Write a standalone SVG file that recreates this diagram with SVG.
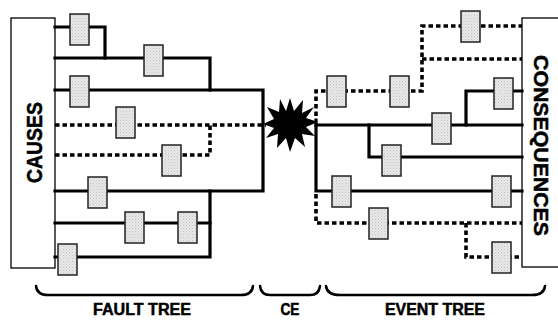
<svg xmlns="http://www.w3.org/2000/svg" width="558" height="320" viewBox="0 0 558 320">
<style>
.frame{fill:#fff;stroke:#000;stroke-width:1.3}
.ln{fill:none;stroke:#000;stroke-width:3.2;stroke-linejoin:miter;stroke-linecap:square}
.dot{fill:none;stroke:#000;stroke-width:3.6;stroke-dasharray:4.5 3;stroke-linejoin:miter}
.bx{fill:url(#stip);stroke:#222;stroke-width:1.5}
.br{fill:none;stroke:#000;stroke-width:2.5;stroke-linecap:round}
.lbl{font-family:"Liberation Sans",Arial,sans-serif;font-weight:bold;fill:#000;stroke:#000;stroke-width:0.5}
</style>
<defs>
<pattern id="stip" width="3" height="3" patternUnits="userSpaceOnUse">
<rect width="3" height="3" fill="#e8e8e8"/>
<rect x="0" y="0" width="1" height="1" fill="#c4c4c4"/>
<rect x="1.5" y="1.5" width="1" height="1" fill="#d0d0d0"/>
</pattern>
</defs>
<rect width="558" height="320" fill="#fff"/>
<g id="causes">
<rect class="frame" x="11" y="18" width="44" height="250"/>
<text class="lbl" font-size="22" transform="translate(42,142.5) rotate(-90)" text-anchor="middle" textLength="81" lengthAdjust="spacingAndGlyphs">CAUSES</text>
</g>
<g id="consequences">
<rect class="frame" x="522" y="18" width="40" height="249"/>
<text class="lbl" font-size="20" transform="translate(533.5,145.5) rotate(90)" text-anchor="middle" textLength="181" lengthAdjust="spacingAndGlyphs">CONSEQUENCES</text>
</g>
<g id="connectors">
<path class="ln" d="M55,27 H105 V58"/>
<path class="ln" d="M55,58 H210 V90"/>
<path class="ln" d="M55,90 H263 V191 H55"/>
<path class="ln" d="M55,223 H210"/>
<path class="ln" d="M55,257 H210 V191"/>
<path class="dot" d="M55,125 H266"/>
<path class="dot" d="M55,155 H210 V125"/>
<path class="ln" d="M316,125 H522"/>
<path class="ln" d="M316,120 V191 H522"/>
<path class="ln" d="M466,125 V91 H522"/>
<path class="ln" d="M369,125 V157 H522"/>
<path class="dot" d="M316,194 V223 H522"/>
<path class="dot" d="M466,223 V257 H522"/>
<path class="dot" d="M316,116 V91 H422 V26 H522"/>
<path class="dot" d="M422,59 H522"/>
</g>
<g id="ce">
<polygon fill="#000" points="290,98 294,111 303,100 302,113 314,107 306,118 318,122 306,127 315,136 302,134 305,147 295,138 290,152 286,138 277,148 278,134 266,138 274,128 263,124 274,119 267,107 279,112 280,99 286,111"/>
</g>
<g id="boxes">
<rect id="b1" class="bx" x="70" y="14" width="19" height="31"/>
<rect id="b2" class="bx" x="144" y="45" width="19" height="31"/>
<rect id="b3" class="bx" x="70" y="76" width="19" height="31"/>
<rect id="b4" class="bx" x="116" y="107" width="19" height="31"/>
<rect id="b5" class="bx" x="162" y="145" width="19" height="31"/>
<rect id="b6" class="bx" x="88" y="177" width="19" height="31"/>
<rect id="b7" class="bx" x="125" y="212" width="19" height="31"/>
<rect id="b8" class="bx" x="178" y="212" width="19" height="31"/>
<rect id="b9" class="bx" x="58" y="244" width="19" height="31"/>
<rect id="b10" class="bx" x="327" y="76" width="19" height="31"/>
<rect id="b11" class="bx" x="390" y="76" width="19" height="31"/>
<rect id="b12" class="bx" x="461" y="11" width="19" height="31"/>
<rect id="b13" class="bx" x="494" y="78" width="19" height="31"/>
<rect id="b14" class="bx" x="432" y="113" width="19" height="31"/>
<rect id="b15" class="bx" x="382" y="145" width="19" height="31"/>
<rect id="b16" class="bx" x="332" y="176" width="19" height="31"/>
<rect id="b17" class="bx" x="492" y="176" width="19" height="31"/>
<rect id="b18" class="bx" x="369" y="208" width="19" height="31"/>
<rect id="b19" class="bx" x="492" y="242" width="19" height="31"/>
</g>
<g id="braces">
<path class="br" d="M36,286 Q37,295 48,295 H241 Q252,295 253,286"/>
<path class="br" d="M260,286 Q261,295 270,295 H310 Q319,295 320,286"/>
<path class="br" d="M326,286 Q327,295 340,295 H532 Q544,295 545,286"/>
</g>
<g id="labels">
<text class="lbl" font-size="16" x="142" y="315" text-anchor="middle" textLength="98" lengthAdjust="spacingAndGlyphs">FAULT TREE</text>
<text class="lbl" font-size="16" x="290" y="315" text-anchor="middle" textLength="19" lengthAdjust="spacingAndGlyphs">CE</text>
<text class="lbl" font-size="16" x="435" y="315" text-anchor="middle" textLength="100" lengthAdjust="spacingAndGlyphs">EVENT TREE</text>
</g>
</svg>
